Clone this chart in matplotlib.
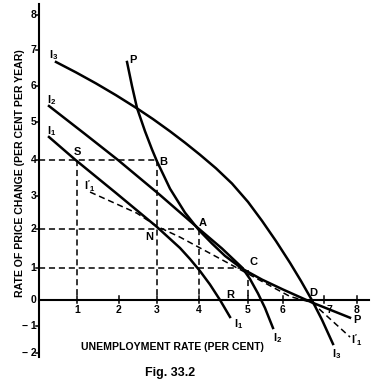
import numpy as np
import matplotlib
matplotlib.use("Agg")
import matplotlib.pyplot as plt

plt.rcParams['font.family'] = ['Liberation Sans', 'DejaVu Sans']
plt.rcParams['font.weight'] = 'bold'
plt.rcParams['mathtext.fontset'] = 'custom'
plt.rcParams['mathtext.rm'] = 'Liberation Sans:bold'
plt.rcParams['mathtext.bf'] = 'Liberation Sans:bold'

# curves (unemployment %, price change %)
i1_x = [0.263, 0.947, 1.929, 3.0, 3.548, 3.786, 4.02, 4.224, 4.429, 4.633]
i1_y = [4.605, 4.013, 3.083, 2.061, 1.513, 1.231, 0.906, 0.484, 0.0, -0.654]

i2_x = [0.263, 1.19, 1.976, 3.071, 4.0, 4.469, 4.878, 5.057, 5.286, 5.486, 5.714]
i2_y = [5.444, 4.684, 4.0, 3.028, 2.003, 1.5, 1.013, 0.656, 0.203, -0.308, -1.074]

i3_x = [0.447, 0.974, 1.452, 1.929, 2.474, 2.895, 3.31, 3.667, 4.02, 4.347,
        4.673, 5.0, 5.4, 5.8, 6.171, 6.439, 6.707, 6.951, 7.273]
i3_y = [6.667, 6.378, 6.072, 5.744, 5.378, 5.081, 4.755, 4.455, 4.139, 3.769,
        3.347, 2.821, 2.248, 1.69, 1.133, 0.594, -0.01, -0.762, -1.667]

p_x = [2.211, 2.342, 2.474, 2.684, 2.868, 3.0, 3.31, 3.667, 4.0, 4.265,
       4.531, 4.878, 5.4, 6.0, 6.707, 7.788]
p_y = [6.667, 6.0, 5.389, 4.758, 4.279, 3.961, 3.203, 2.494, 1.969, 1.628,
       1.31, 0.981, 0.638, 0.328, -0.096, -0.681]

i1d_x = [1.31, 2.47, 3.0, 3.55, 4.78, 6.17, 6.71, 7.79]
i1d_y = [3.11, 2.48, 2.08, 1.79, 1.0, 0.11, -0.1, -1.41]

x_ticks = [1, 2, 3, 4, 5, 6, 7, 8]
y_ticks = [8, 7, 6, 5, 4, 3, 2, 1, 0, -1, -2]

# hand drawn axes: where each unit sits on the page
x_units = [-2, -1, 0, 1, 2, 3, 4, 5, 6, 7, 8, 9, 10]
x_pix = [-41, -1, 39, 77, 119, 157, 199, 248, 283, 324, 357, 397, 437]
y_units = [-4, -3, -2, -1, 0, 1, 2, 3, 4, 5, 6, 7, 8, 9, 10]
y_pix = [407, 380, 353, 326, 300, 268, 229, 196, 160, 122, 86, 50, 15, -20, -55]

# (x from, x to, y from, y to) guide lines
guides = [(0, 3, 4, 4), (1, 1, 4, 0), (3, 3, 4, 0),
          (0, 4, 2, 2), (4, 4, 2, 0),
          (0, 4.95, 1, 1), (5, 5, 0.95, 0)]

point_labels = {'S': (1.02, 4.21), 'B': (3.14, 3.94), 'N': (2.79, 1.79),
                'A': (4.08, 2.18), 'C': (5.17, 1.15), 'R': (4.63, 0.17),
                'D': (6.73, 0.22), 'P': (2.37, 6.72)}
curve_labels = [(r'$\mathbf{I_3}$', 0.39, 6.86), (r'$\mathbf{I_2}$', 0.34, 5.61),
                (r'$\mathbf{I_1}$', 0.32, 4.76), (r"$\mathbf{I'_1}$", 1.31, 3.28),
                (r'$\mathbf{I_1}$', 4.8, -0.92), (r'$\mathbf{I_2}$', 5.85, -1.46),
                (r'$\mathbf{I_3}$', 7.39, -2.04), (r"$\mathbf{I'_1}$", 8.0, -1.52),
                ('P', 8.0, -0.77)]


def xf(u):
    return np.interp(u, x_units, x_pix)


def xi(p):
    return np.interp(p, x_pix, x_units)


def yf(v):
    return -np.interp(v, y_units, y_pix)


def yi(w):
    return np.interp(-np.asarray(w, float), y_pix[::-1], y_units[::-1])


fig = plt.figure(figsize=(3.77, 3.88), dpi=100)
ax = fig.add_axes([0, 0, 1, 1])
ax.set_xscale('function', functions=(xf, xi))
ax.set_yscale('function', functions=(yf, yi))
ax.set_xlim(float(xi(0)), float(xi(377)))
ax.set_ylim(float(yi(-388)), float(yi(0)))
ax.axis('off')

# axes
ax.plot([0, 0], [-2.15, 8.32], color='black', lw=1.5)
ax.plot([0, 8.3], [0, 0], color='black', lw=1.5)
for t in y_ticks:
    if t != 0:
        ax.plot([-0.07, 0.0], [t, t], color='black', lw=1.1)
    lab = str(t) if t >= 0 else '\u2212 ' + str(-t)
    ax.text(-0.07, t, lab, ha='right', va='center', fontsize=7.5)
for t in x_ticks:
    ax.plot([t, t], [-0.1, 0.13], color='black', lw=1.1)
    ax.text(t + (0.15 if t == 7 else 0), -0.38, str(t), ha='center', va='center', fontsize=7.5)

for x0, x1, y0, y1 in guides:
    ax.plot([x0, x1], [y0, y1], color='black', lw=1.1, ls=(0, (4, 2.5)))

ax.plot(i1_x, i1_y, color='black', lw=1.8, solid_joinstyle='round')
ax.plot(i2_x, i2_y, color='black', lw=1.8, solid_joinstyle='round')
ax.plot(i3_x, i3_y, color='black', lw=1.8, solid_joinstyle='round')
ax.plot(p_x, p_y, color='black', lw=1.8, solid_joinstyle='round')
ax.plot(i1d_x, i1d_y, color='black', lw=1.1, ls=(0, (4, 2.5)))

for k, (x, y) in point_labels.items():
    ax.text(x, y, k, ha='center', va='center', fontsize=8)
for s, x, y in curve_labels:
    ax.text(x, y, s, ha='center', va='center', fontsize=8)

ax.text(-0.48, 3.64, 'RATE OF PRICE CHANGE (PER CENT PER YEAR)', rotation=90,
        ha='center', va='center', fontsize=7.6)
ax.text(3.36, -1.78, 'UNEMPLOYMENT RATE (PER CENT)', ha='center', va='center',
        fontsize=7.6)
ax.text(3.31, -2.74, 'Fig. 33.2', ha='center', va='center', fontsize=9)

fig.savefig('out.png', dpi=100)
